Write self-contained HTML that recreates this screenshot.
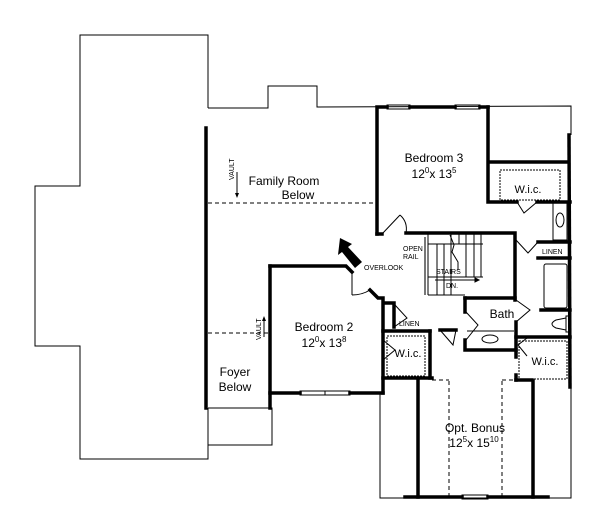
<!DOCTYPE html>
<html><head><meta charset="utf-8"><style>
html,body{margin:0;padding:0;background:#fff;}
svg{display:block;}
text{font-family:"Liberation Sans",sans-serif;fill:#000;}
</style></head><body>
<svg width="600" height="517" viewBox="0 0 600 517" xmlns="http://www.w3.org/2000/svg">
<g fill="none" stroke="#000" stroke-width="1">
 <polyline points="208,108 208,35 80,35 80,186 35,186 35,346 80,346 80,459 208,459 208,408"/>
 <polyline points="208,108 268,108 268,86 317,86 317,107 571,106 571,135"/>
 <polyline points="208,408 272,408 272,445 208,445"/>
 <polyline points="380,393 380,498 571,498 571,380"/>
</g>
<g fill="none" stroke="#000" stroke-width="1" stroke-dasharray="4,3">
 <line x1="208" y1="203" x2="376" y2="203"/>
 <line x1="208" y1="333" x2="268" y2="333"/>
 <line x1="449" y1="381" x2="449" y2="497"/>
 <line x1="502" y1="381" x2="502" y2="497"/>
 <line x1="432" y1="380" x2="449" y2="380"/>
 <line x1="502" y1="380" x2="516" y2="380"/>
</g>
<g fill="none" stroke="#000" stroke-width="3.5" stroke-linecap="square">
 <line x1="206" y1="128" x2="206" y2="408"/>
 <line x1="270" y1="266" x2="270" y2="408"/>
 <polyline points="270,266 346,266 352,272"/>
 <line x1="270" y1="393" x2="300" y2="393"/>
 <line x1="350" y1="393" x2="383" y2="393"/>
 <polyline points="370,290 378,298 383,298 383,393"/>
 <polyline points="377,234 377,107 387,107"/>
 <line x1="410" y1="107" x2="455" y2="107"/>
 <line x1="480" y1="107" x2="488" y2="107"/>
 <polyline points="488,107 488,202 517,202"/>
 <line x1="537" y1="202" x2="570" y2="202"/>
 <line x1="490" y1="162" x2="568" y2="162"/>
 <line x1="569" y1="135" x2="570" y2="387"/>
 <line x1="377" y1="234" x2="382" y2="234"/>
 <polyline points="406,233 515,233 515,300"/>
 <polyline points="465,298 515,298"/>
 <polyline points="465,298 465,312"/>
 <polyline points="465,340 465,350 516,350 516,322"/>
 <line x1="538" y1="242" x2="570" y2="242"/>
 <line x1="538" y1="258" x2="570" y2="258"/>
 <line x1="541" y1="310" x2="570" y2="310"/>
 <line x1="516" y1="337" x2="570" y2="337"/>
 <line x1="516" y1="350" x2="516" y2="357"/>
 <line x1="516" y1="375" x2="516" y2="380"/>
 <line x1="516" y1="380" x2="532" y2="380"/>
 <polyline points="386,303 394,303 394,327"/>
 <line x1="383" y1="331" x2="430" y2="331"/>
 <line x1="430" y1="331" x2="430" y2="378"/>
 <line x1="383" y1="378" x2="432" y2="378"/>
 <line x1="440" y1="330" x2="456" y2="330"/>
 <line x1="418" y1="381" x2="418" y2="497"/>
 <line x1="533" y1="381" x2="533" y2="497"/>
 <line x1="405" y1="497" x2="462" y2="497"/>
 <line x1="488" y1="497" x2="548" y2="497"/>
</g>
<g fill="none" stroke="#000" stroke-width="1">
 <rect x="387" y="105" width="23" height="4"/><rect x="455" y="105" width="25" height="4"/>
 <rect x="300" y="391" width="25" height="4"/><rect x="325" y="391" width="25" height="4"/>
 <rect x="462" y="495" width="26" height="4"/>
 <rect x="500" y="170" width="60" height="30" stroke-dasharray="2,1"/>
 <rect x="553" y="202" width="14" height="38"/>
 <ellipse cx="560" cy="220" rx="4" ry="7"/>
 <ellipse cx="490" cy="339" rx="8" ry="4"/>
 <line x1="467" y1="331" x2="514" y2="331"/>
 <rect x="544" y="264" width="23" height="44" rx="2"/>
 <path d="M566,318 L556,320 Q548,324 556,328 L566,330 Z"/><rect x="566" y="316" width="4" height="16"/>
 <line x1="428" y1="233" x2="428" y2="295"/>
 <line x1="428" y1="244" x2="483" y2="244"/>
 <line x1="428" y1="277" x2="483" y2="277"/>
 <line x1="428" y1="295" x2="465" y2="295"/>
 <line x1="437" y1="244" x2="437" y2="295"/><line x1="444" y1="244" x2="444" y2="295"/>
 <line x1="451" y1="233" x2="451" y2="295"/><line x1="459" y1="233" x2="459" y2="244"/>
 <line x1="466" y1="233" x2="466" y2="277"/><line x1="474" y1="233" x2="474" y2="277"/>
 <line x1="481" y1="233" x2="481" y2="277"/>
 <path d="M450,235 L454,245 L452,252 L458,262 L458,270"/>
 <line x1="435" y1="280" x2="475" y2="280"/>
 <path d="M475,278 L479,280 L475,282 Z" fill="#000"/>
 <line x1="425" y1="237" x2="425" y2="295" stroke-width="2" stroke="#777"/>
 <line x1="382" y1="234" x2="400" y2="215"/><path d="M400,215 Q408,222 406,233"/>
 <line x1="352" y1="272" x2="352" y2="295"/><path d="M352,295 Q362,295 370,290"/>
 <path d="M517,202 L524,213 L537,202"/>
 <path d="M516,240 L528,253 L538,242"/>
 <path d="M466,312 L478,325 L466,340"/>
 <path d="M516,300 L530,310 L516,322"/>
 <path d="M440,330 L453,345 L456,330"/>
 <path d="M394,327 L407,318 L395,305"/>
 <path d="M383,340 L395,350 L383,360"/>
 <path d="M527,338 L518,345 L527,356"/>
 <rect x="387" y="336" width="38" height="40" stroke-dasharray="2,1"/>
 <rect x="519" y="341" width="48" height="38" stroke-dasharray="2,1"/>
</g>
<polygon points="340,238 352,244 348,247 362,262 355,268 342,252 338,255" fill="#000"/>
<line x1="237" y1="172" x2="237" y2="195" stroke="#000"/><polygon points="235,193 239,193 237,198"/>
<line x1="264" y1="320" x2="264" y2="337" stroke="#000"/><polygon points="262,321 266,321 264,316"/>
<text x="234" y="180" font-size="7" transform="rotate(-90 234 180)">VAULT</text>
<text x="261" y="340" font-size="7" transform="rotate(-90 261 340)">VAULT</text>
<g font-size="12" text-anchor="middle">
 <text x="284" y="185">Family Room</text><text x="298" y="199">Below</text>
 <text x="434" y="162">Bedroom 3</text><text x="434" y="178">12<tspan font-size="8" dy="-5">0</tspan><tspan dy="5">x 13</tspan><tspan font-size="8" dy="-5">5</tspan></text>
 <text x="324" y="331">Bedroom 2</text><text x="324" y="347">12<tspan font-size="8" dy="-5">0</tspan><tspan dy="5">x 13</tspan><tspan font-size="8" dy="-5">8</tspan></text>
 <text x="235" y="376">Foyer</text><text x="235" y="391">Below</text>
 <text x="502" y="318">Bath</text>
 <text x="475" y="432">Opt. Bonus</text><text x="474" y="447">12<tspan font-size="8" dy="-5">5</tspan><tspan dy="5">x 15</tspan><tspan font-size="8" dy="-5">10</tspan></text>
</g>
<g font-size="11" text-anchor="middle">
 <text x="528" y="193">W.i.c.</text><text x="408" y="357">W.i.c.</text><text x="545" y="365">W.i.c.</text>
</g>
<g font-size="7">
 <text x="403" y="251">OPEN</text><text x="403" y="259">RAIL</text>
 <text x="364" y="270">OVERLOOK</text>
 <text x="436" y="274">STAIRS</text><text x="446" y="288">DN.</text>
 <text x="542" y="254">LINEN</text><text x="399" y="326">LINEN</text>
</g>
</svg>
</body></html>
